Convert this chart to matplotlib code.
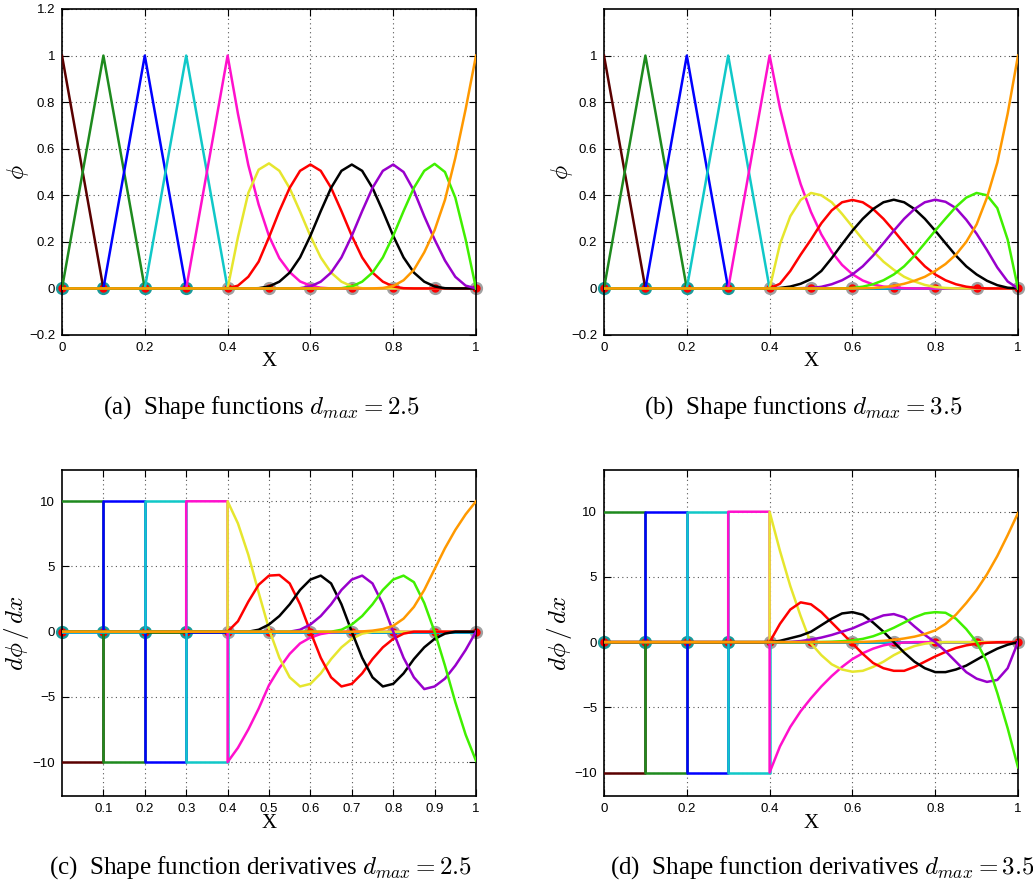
import matplotlib
matplotlib.use('Agg')
import matplotlib.pyplot as plt

plt.rcParams['mathtext.fontset'] = 'cm'

# ---- node positions ----
nodes_fe = [0.0, 0.1, 0.2, 0.3]
nodes_mf = [0.4, 0.5, 0.6, 0.7, 0.8, 0.9, 1.0]
nodes_all = [0.0, 0.1, 0.2, 0.3, 0.4, 0.5, 0.6, 0.7, 0.8, 0.9, 1.0]

# sample points of the meshfree region
x_mf = [0.4, 0.425, 0.45, 0.475, 0.5, 0.525, 0.55, 0.575, 0.6, 0.625, 0.65, 0.675, 0.7,
        0.725, 0.75, 0.775, 0.8, 0.825, 0.85, 0.875, 0.9, 0.925, 0.95, 0.975, 1.0]

# ---- FE hat functions (same in a and b) ----
brown_x, brown_phi = [0.0, 0.1, 1.0], [1.0, 0.0, 0.0]
dgreen_x, dgreen_phi = [0.0, 0.1, 0.2, 1.0], [0.0, 1.0, 0.0, 0.0]
blue_x, blue_phi = [0.0, 0.1, 0.2, 0.3, 1.0], [0.0, 0.0, 1.0, 0.0, 0.0]
cyan_x, cyan_phi = [0.0, 0.2, 0.3, 0.4, 1.0], [0.0, 0.0, 1.0, 0.0, 0.0]
mag_fe_x, mag_fe_phi = [0.0, 0.3], [0.0, 0.0]

# ---- FE derivatives (steps, same in c and d) ----
brown_dx, brown_d = [0.0, 0.1, 0.1, 1.0], [-10, -10, 0, 0]
dgreen_dx, dgreen_d = [0.0, 0.1, 0.1, 0.2, 0.2, 1.0], [10, 10, -10, -10, 0, 0]
blue_dx, blue_d = [0.0, 0.1, 0.1, 0.2, 0.2, 0.3, 0.3, 1.0], [0, 0, 10, 10, -10, -10, 0, 0]
cyan_dx, cyan_d = [0.0, 0.2, 0.2, 0.3, 0.3, 0.4, 0.4, 1.0], [0, 0, 10, 10, -10, -10, 0, 0]
mag_fe_dx, mag_fe_d = [0.0, 0.3, 0.3, 0.4], [0, 0, 10, 10]
yel_fe_dx, yel_fe_d = [0.0, 0.4], [0, 0]

# ---- (a) shape functions, dmax = 2.5 ----
mag_a = [1.0, 0.75, 0.53, 0.36, 0.225, 0.13, 0.07, 0.03, 0.012, 0.003, 0, 0, 0,
         0, 0, 0, 0, 0, 0, 0, 0, 0, 0, 0, 0]
yel_a = [0, 0.22, 0.41, 0.51, 0.537, 0.505, 0.43, 0.33, 0.225, 0.133, 0.068, 0.029, 0.009,
         0.001, 0, 0, 0, 0, 0, 0, 0, 0, 0, 0, 0]
red_a = [0, 0.012, 0.05, 0.115, 0.22, 0.332, 0.432, 0.505, 0.532, 0.505, 0.432, 0.332, 0.226,
         0.133, 0.068, 0.029, 0.0085, 0.001, 0, 0, 0, 0, 0, 0, 0]
blk_a = [0, 0, 0, 0.001, 0.0085, 0.029, 0.068, 0.133, 0.226, 0.332, 0.432, 0.505, 0.532,
         0.505, 0.432, 0.332, 0.226, 0.133, 0.068, 0.029, 0.0085, 0.001, 0, 0, 0]
pur_a = [0, 0, 0, 0, 0, 0, 0, 0.001, 0.0085, 0.029, 0.068, 0.133, 0.226,
         0.332, 0.432, 0.505, 0.532, 0.50, 0.42, 0.31, 0.21, 0.12, 0.05, 0.012, 0]
lim_a = [0, 0, 0, 0, 0, 0, 0, 0, 0, 0, 0, 0.001, 0.0085,
         0.029, 0.068, 0.133, 0.226, 0.332, 0.432, 0.505, 0.535, 0.50, 0.39, 0.21, 0]
org_a = [0, 0, 0, 0, 0, 0, 0, 0, 0, 0, 0, 0, 0,
         0, 0, 0.002, 0.01, 0.035, 0.08, 0.155, 0.25, 0.38, 0.56, 0.77, 1.0]

# ---- (b) shape functions, dmax = 3.5 ----
mag_b = [1.0, 0.775, 0.595, 0.448, 0.328, 0.232, 0.157, 0.101, 0.061, 0.034, 0.017, 0.008, 0.004,
         0.001, 0, 0, 0, 0, 0, 0, 0, 0, 0, 0, 0]
yel_b = [0, 0.19, 0.31, 0.38, 0.41, 0.40, 0.37, 0.32, 0.265, 0.21, 0.16, 0.115, 0.08,
         0.05, 0.03, 0.015, 0.006, 0.002, 0, 0, 0, 0, 0, 0, 0]
red_b = [0, 0.02, 0.075, 0.145, 0.21, 0.28, 0.335, 0.37, 0.38, 0.37, 0.341, 0.299, 0.248,
         0.194, 0.141, 0.095, 0.06, 0.035, 0.018, 0.0075, 0.002, 0, 0, 0, 0]
blk_b = [0, 0.002, 0.008, 0.02, 0.04, 0.075, 0.13, 0.19, 0.248, 0.299, 0.341, 0.37, 0.381,
         0.37, 0.341, 0.299, 0.248, 0.194, 0.141, 0.095, 0.06, 0.033, 0.014, 0.003, 0]
pur_b = [0, 0, 0, 0.001, 0.002, 0.007, 0.018, 0.035, 0.06, 0.095, 0.141, 0.194, 0.248,
         0.299, 0.341, 0.37, 0.381, 0.372, 0.345, 0.295, 0.235, 0.165, 0.09, 0.03, 0]
lim_b = [0, 0, 0, 0, 0, 0, 0, 0.0002, 0.002, 0.0075, 0.018, 0.035, 0.06,
         0.095, 0.141, 0.194, 0.248, 0.30, 0.35, 0.39, 0.41, 0.40, 0.345, 0.21, 0]
org_b = [0, 0, 0, 0, 0, 0, 0, 0, 0, 0.0005, 0.002, 0.005, 0.011,
         0.02, 0.033, 0.05, 0.075, 0.105, 0.145, 0.2, 0.275, 0.39, 0.54, 0.75, 1.0]

# ---- (c) derivatives, dmax = 2.5 ----
mag_c = [-10, -8.9, -7.5, -5.9, -4.1, -2.8, -1.7, -0.9, -0.45, -0.18, -0.05, 0, 0,
         0, 0, 0, 0, 0, 0, 0, 0, 0, 0, 0, 0]
yel_c = [10, 8.3, 5.9, 3.0, 0.2, -2.0, -3.5, -4.2, -4.0, -3.2, -2.1, -1.2, -0.55,
         -0.15, 0, 0, 0, 0, 0, 0, 0, 0, 0, 0, 0]
red_c = [0, 0.8, 2.3, 3.6, 4.3, 4.35, 3.7, 2.1, 0, -2.0, -3.5, -4.2, -4.0,
         -3.2, -2.1, -1.2, -0.55, -0.15, 0, 0, 0, 0, 0, 0, 0]
blk_c = [0, 0, 0, 0.15, 0.55, 1.2, 2.1, 3.2, 4.0, 4.3, 3.7, 2.1, 0,
         -2.0, -3.5, -4.2, -4.0, -3.2, -2.1, -1.2, -0.55, -0.15, 0, 0, 0]
pur_c = [0, 0, 0, 0, 0, 0, 0, 0.15, 0.55, 1.2, 2.1, 3.2, 4.0,
         4.3, 3.7, 2.1, 0, -2.0, -3.5, -4.4, -4.2, -3.6, -2.6, -1.4, 0]
lim_c = [0, 0, 0, 0, 0, 0, 0, 0, 0, 0, 0, 0.15, 0.55,
         1.2, 2.1, 3.2, 4.0, 4.3, 3.8, 2.2, 0, -2.6, -5.4, -7.9, -9.9]
org_c = [0, 0, 0, 0, 0, 0, 0, 0, 0, 0, 0, 0, 0,
         0.02, 0.08, 0.2, 0.45, 1.0, 1.9, 3.2, 4.8, 6.4, 7.8, 9.0, 10]

# ---- (d) derivatives, dmax = 3.5 ----
mag_d = [-10, -8.0, -6.5, -5.3, -4.3, -3.4, -2.6, -1.9, -1.3, -0.85, -0.5, -0.25, -0.1,
         -0.03, 0, 0, 0, 0, 0, 0, 0, 0, 0, 0, 0]
yel_d = [10, 7.0, 4.3, 2.0, -0.1, -1.0, -1.7, -2.1, -2.27, -2.2, -1.9, -1.5, -1.0,
         -0.6, -0.3, -0.12, -0.03, 0, 0, 0, 0, 0, 0, 0, 0]
red_d = [0, 1.4, 2.5, 3.05, 2.9, 2.3, 1.5, 0.7, -0.1, -0.9, -1.6, -2.0, -2.2,
         -2.2, -1.9, -1.5, -1.1, -0.75, -0.45, -0.25, -0.12, -0.05, -0.01, 0, 0]
blk_d = [0, 0.1, 0.3, 0.5, 0.8, 1.3, 1.8, 2.2, 2.3, 2.1, 1.5, 0.8, 0,
         -0.8, -1.5, -2.0, -2.3, -2.3, -2.1, -1.8, -1.35, -0.9, -0.5, -0.2, 0]
pur_d = [0, 0, 0.02, 0.08, 0.2, 0.35, 0.55, 0.8, 1.05, 1.4, 1.75, 2.05, 2.15,
         1.9, 1.2, 0.55, 0, -0.7, -1.5, -2.3, -2.8, -3.05, -2.9, -2.0, 0]
lim_d = [0, 0, 0, 0, 0, 0.01, 0.03, 0.07, 0.13, 0.25, 0.45, 0.75, 1.1,
         1.5, 1.9, 2.2, 2.3, 2.25, 1.8, 1.0, 0, -1.5, -3.9, -6.6, -9.6]
org_d = [0, 0, 0, 0, 0, 0, 0, 0, 0, 0.02, 0.05, 0.1, 0.17,
         0.28, 0.42, 0.62, 0.9, 1.4, 2.1, 3.0, 4.0, 5.2, 6.6, 8.2, 9.9]

# colours
c_brown = '#5a0000'
c_dgreen = '#1e8a1e'
c_blue = '#0000ff'
c_cyan = '#10c8c8'
c_mag = '#ff10cc'
c_yel = '#e6e62e'
c_red = '#ff0000'
c_blk = '#000000'
c_pur = '#9900cc'
c_lim = '#40f000'
c_org = '#ff9900'
c_teal = '#189a9a'
c_gray = '#a0a0a0'

LW = 1.8
tick_font = dict(family='Liberation Sans', size=9.5)


def draw_nodes(ax):
    ax.plot(nodes_mf, [0] * len(nodes_mf), 'o', ms=8.5, color=c_gray, mec=c_gray,
            zorder=2, clip_on=False)
    ax.plot(nodes_fe, [0] * len(nodes_fe), 'o', ms=8.5, color=c_teal, mec=c_teal,
            zorder=2, clip_on=False)
    ax.plot(nodes_all, [0] * len(nodes_all), 'o', ms=5, color=c_red, mec=c_red,
            zorder=2.5, clip_on=False)


def style(ax, ylim, xticks, xlabels, yticks, ylabels):
    ax.set_xlim(0, 1)
    ax.set_ylim(*ylim)
    ax.set_xticks(xticks)
    ax.set_xticklabels(xlabels, **tick_font)
    ax.set_yticks(yticks)
    ax.set_yticklabels(ylabels, **tick_font)
    ax.tick_params(direction='in', top=True, right=True, length=5, width=0.8, pad=5)
    ax.grid(True, linestyle=(0, (1, 3)), color='#555555', linewidth=0.8)
    for s in ax.spines.values():
        s.set_linewidth(1.2)


fig = plt.figure(figsize=(10.33, 8.92), dpi=100)
W, H = 1033.0, 892.0

ax_a = fig.add_axes([62 / W, 1 - 335 / H, 414 / W, 326 / H])
ax_b = fig.add_axes([604 / W, 1 - 335 / H, 414 / W, 326 / H])
ax_c = fig.add_axes([62 / W, 1 - 796 / H, 414 / W, 326 / H])
ax_d = fig.add_axes([604 / W, 1 - 796 / H, 414 / W, 326 / H])

# shape function panels
for ax, mag, yel, red, blk, pur, lim, org in [
        (ax_a, mag_a, yel_a, red_a, blk_a, pur_a, lim_a, org_a),
        (ax_b, mag_b, yel_b, red_b, blk_b, pur_b, lim_b, org_b)]:
    draw_nodes(ax)
    ax.plot(brown_x, brown_phi, color=c_brown, lw=LW, zorder=3)
    ax.plot(dgreen_x, dgreen_phi, color=c_dgreen, lw=LW, zorder=3)
    ax.plot(blue_x, blue_phi, color=c_blue, lw=LW, zorder=3)
    ax.plot(cyan_x, cyan_phi, color=c_cyan, lw=LW, zorder=3)
    ax.plot(mag_fe_x + x_mf, mag_fe_phi + mag, color=c_mag, lw=LW, zorder=3)
    for vals, col in [(yel, c_yel), (red, c_red), (blk, c_blk), (pur, c_pur),
                      (lim, c_lim), (org, c_org)]:
        ax.plot([0.0] + x_mf, [0.0] + vals, color=col, lw=LW, zorder=3)

# derivative panels
for ax, mag, yel, red, blk, pur, lim, org in [
        (ax_c, mag_c, yel_c, red_c, blk_c, pur_c, lim_c, org_c),
        (ax_d, mag_d, yel_d, red_d, blk_d, pur_d, lim_d, org_d)]:
    draw_nodes(ax)
    ax.plot(brown_dx, brown_d, color=c_brown, lw=LW, zorder=3)
    ax.plot(dgreen_dx, dgreen_d, color=c_dgreen, lw=LW, zorder=3)
    ax.plot(blue_dx, blue_d, color=c_blue, lw=LW, zorder=3)
    ax.plot(cyan_dx, cyan_d, color=c_cyan, lw=LW, zorder=3)
    ax.plot(mag_fe_dx + x_mf, mag_fe_d + mag, color=c_mag, lw=LW, zorder=3)
    ax.plot(yel_fe_dx + x_mf, yel_fe_d + yel, color=c_yel, lw=LW, zorder=3)
    for vals, col in [(red, c_red), (blk, c_blk), (pur, c_pur), (lim, c_lim), (org, c_org)]:
        ax.plot([0.0] + x_mf, [0.0] + vals, color=col, lw=LW, zorder=3)

x_ticks_ab = [0, 0.2, 0.4, 0.6, 0.8, 1.0]
x_labels_ab = ['0', '0.2', '0.4', '0.6', '0.8', '1']
style(ax_a, (-0.2, 1.2), x_ticks_ab, x_labels_ab,
      [-0.2, 0, 0.2, 0.4, 0.6, 0.8, 1.0, 1.2],
      ['\u22120.2', '0', '0.2', '0.4', '0.6', '0.8', '1', '1.2'])
style(ax_b, (-0.2, 1.2), x_ticks_ab, x_labels_ab,
      [-0.2, 0, 0.2, 0.4, 0.6, 0.8, 1.0],
      ['\u22120.2', '0', '0.2', '0.4', '0.6', '0.8', '1'])
style(ax_c, (-12.6, 12.4),
      [0.1, 0.2, 0.3, 0.4, 0.5, 0.6, 0.7, 0.8, 0.9, 1.0],
      ['0.1', '0.2', '0.3', '0.4', '0.5', '0.6', '0.7', '0.8', '0.9', '1'],
      [-10, -5, 0, 5, 10], ['\u221210', '\u22125', '0', '5', '10'])
style(ax_d, (-11.8, 13.2), x_ticks_ab, x_labels_ab,
      [-10, -5, 0, 5, 10], ['\u221210', '\u22125', '0', '5', '10'])

# axis labels
for ax in (ax_a, ax_b):
    ax.set_xlabel('X', family='Liberation Serif', fontsize=15, va='center')
    ax.xaxis.set_label_coords(0.5, -27 / 326)
    ax.set_ylabel(r'$\phi$', fontsize=17, va='center')
ax_a.yaxis.set_label_coords(-44 / 414, 0.5)
ax_b.yaxis.set_label_coords(-42 / 414, 0.5)
for ax in (ax_c, ax_d):
    ax.set_xlabel('X', family='Liberation Serif', fontsize=15, va='center')
    ax.xaxis.set_label_coords(0.5, -27 / 326)
    ax.set_ylabel(r'$d\phi\,/\,dx$', fontsize=18, va='center')
ax_c.yaxis.set_label_coords(-45 / 414, 0.5)
ax_d.yaxis.set_label_coords(-44 / 414, 0.5)

# captions
cap = dict(family='Liberation Serif', fontsize=18, ha='center', va='center')
fig.text(261 / W, 1 - 408 / H, r'(a)  Shape functions $d_{max}=2.5$', **cap)
fig.text(803 / W, 1 - 408 / H, r'(b)  Shape functions $d_{max}=3.5$', **cap)
fig.text(261 / W, 1 - 868 / H, r'(c)  Shape function derivatives $d_{max}=2.5$', **cap)
fig.text(822 / W, 1 - 868 / H, r'(d)  Shape function derivatives $d_{max}=3.5$', **cap)

fig.savefig('out.png', dpi=100)
